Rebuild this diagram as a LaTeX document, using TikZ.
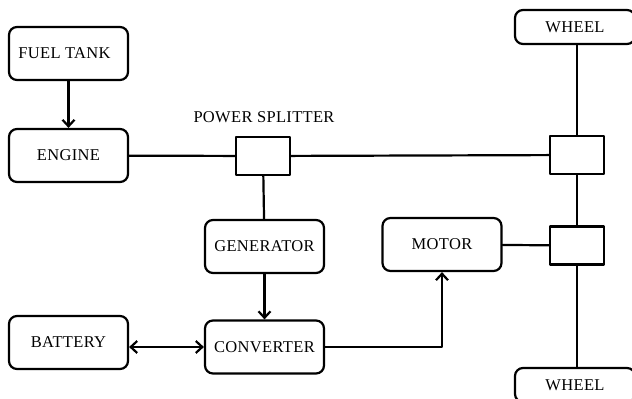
\documentclass[tikz,border=0pt]{standalone}
\usepackage{fontspec}
\setmainfont[LetterSpace=2]{Liberation Serif}
\usetikzlibrary{arrows.meta}
\begin{document}
\begin{tikzpicture}[x=1pt,y=-1pt,line width=2.2pt,line cap=round,line join=round,>={Straight Barb[length=6.5pt,width=12pt]},
		blok/.style={draw,rounded corners=8pt,minimum width=119pt,minimum height=53pt,inner sep=0pt,font=\fontsize{16.5}{19}\selectfont},
		wheelbox/.style={blok,minimum width=120pt,minimum height=34pt},
		gear/.style={draw,rounded corners=0pt,minimum width=54pt,minimum height=38pt,inner sep=0pt}]
			\useasboundingbox (0,0) rectangle (632,399);
			\node[blok] (fuel) at (68.5,53.5) {FUEL TANK\hspace{8pt}\raisebox{3pt}{}};
			\node[blok] (engine) at (68.5,155.5) {ENGINE};
			\node[gear] (split) at (263,156) {};
			\node[font=\fontsize{16.5}{19}\selectfont] (splitlbl) at (264,117) {POWER SPLITTER};
			\node[gear] (gearA) at (577,155) {};
			\node[gear] (gearB) at (577,245.5) {};
			\node[wheelbox] (wheelT) at (575,27) {WHEEL};
			\node[wheelbox] (wheelB) at (575,385) {WHEEL};
			\node[blok] (gen) at (264.5,246.5) {GENERATOR};
			\node[blok] (conv) at (264.5,347) {CONVERTER};
			\node[blok] (batt) at (68.5,342.5) {BATTERY};
			\node[blok] (motor) at (442,244.5) {MOTOR};
			\draw[->] (fuel) -- (engine);
			\draw (engine) -- (split) -- (gearA);
			\draw (split) -- (gen);
			\draw[->] (gen) -- (conv);
			\draw[<->] (batt.east |- conv.west) -- (conv.west);
			\draw[->] (conv.east) -| (motor.south);
			\draw (motor) -- (gearB);
			\draw (wheelT.south -| gearA) -- (gearA) -- (gearB) -- (gearB |- wheelB.north);
	\end{tikzpicture}
\end{document}
